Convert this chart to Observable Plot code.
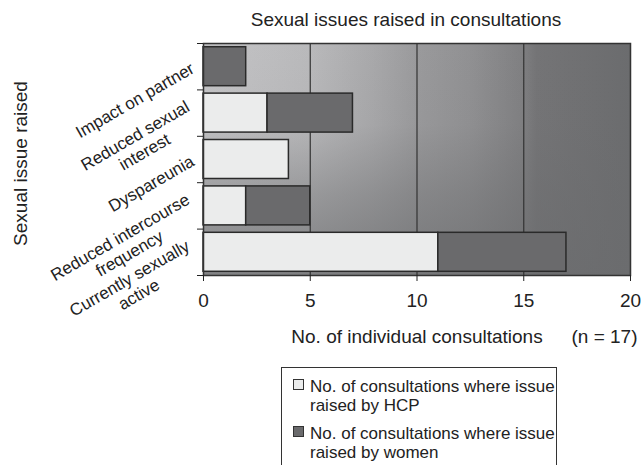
<!DOCTYPE html>
<html>
<head>
<meta charset="utf-8">
<script src="https://cdn.jsdelivr.net/npm/d3@7"></script>
<script src="https://cdn.jsdelivr.net/npm/@observablehq/plot@0.6"></script>
<style>
  html, body { margin: 0; padding: 0; background: #fff; overflow: hidden; }
  #wrap { position: relative; width: 641px; height: 465px; overflow: hidden;
          font-family: 'Liberation Sans', Arial, sans-serif; color: #222; }
  #title { position: absolute; left: 406px; top: 1px; transform: translateX(-50%);
           white-space: nowrap; font-size: 19px; line-height: 38px; }
  #chart { position: absolute; left: 0; top: 38px; }
  #legend { position: absolute; left: 281px; top: 367px; width: 276px; height: 120px;
            border: 1px solid #333; box-sizing: border-box; background: #fff; }
  .item { position: absolute; left: 0; }
  .sw { position: absolute; left: 11px; top: 2px; width: 9px; height: 9px; border: 1px solid #333; }
  .txt { position: absolute; left: 28px; top: 0; white-space: nowrap; font-size: 17px; line-height: 19px; }
</style>
</head>
<body>
<div id="wrap">
  <div id="title"></div>
  <div id="chart"></div>
  <div id="legend"></div>
</div>
<script>
// ---- data ----
const chartTitle = "Sexual issues raised in consultations";
const categories = [
  "Impact on partner",
  "Reduced sexual\ninterest",
  "Dyspareunia",
  "Reduced intercourse\nfrequency",
  "Currently sexually\nactive"
];
const raisedByHCP = [0, 3, 4, 2, 11];
const raisedByWomen = [2, 4, 0, 3, 6];
const xTicks = [0, 5, 10, 15, 20];
const gridValues = [5, 10, 15];
const seriesKeys = ["HCP", "women"];
const seriesColors = ["#ebecec", "#6a6a6c"];
const legendLabels = [
  "No. of consultations where issue\nraised by HCP",
  "No. of consultations where issue\nraised by women"
];
const yTitle = "Sexual issue raised";
const xTitle = "No. of individual consultations";

// ---- build ----
document.getElementById("title").textContent = chartTitle;

const rows = categories.map((c, i) => ({cat: c, i, hcp: raisedByHCP[i], women: raisedByWomen[i]}));
const segs = [
  ...rows.filter(d => d.hcp > 0).map(d => ({i: d.i, x1: 0, x2: d.hcp, who: "HCP"})),
  ...rows.filter(d => d.women > 0).map(d => ({i: d.i, x1: d.hcp, x2: d.hcp + d.women, who: "women"}))
];
const pad = 0.08;

const ctx = document.createElement("canvas").getContext("2d");
ctx.font = "17px 'Liberation Sans', Arial, sans-serif";
const ang = Math.PI / 6;
const labelMarks = rows.map(r => {
  const W = Math.max(...r.cat.split("\n").map(l => ctx.measureText(l).width));
  return Plot.text([r], {
    x: () => 0, y: d => d.i + 0.5, text: "cat",
    rotate: -30, textAnchor: "middle", lineAnchor: "middle", lineHeight: 1.1,
    fontSize: 17, fill: "#222",
    dx: -11 - (W / 2) * Math.cos(ang), dy: (W / 2) * Math.sin(ang)
  });
});

const svg = Plot.plot({
  width: 641, height: 320,
  marginLeft: 203, marginRight: 11, marginTop: 5, marginBottom: 83,
  style: {fontFamily: "'Liberation Sans', Arial, sans-serif", fontSize: "19px", color: "#222", background: "transparent", overflow: "visible"},
  x: {domain: [0, 20], label: null},
  y: {domain: [0, categories.length], reverse: true, label: null},
  color: {domain: seriesKeys, range: seriesColors},
  marks: [
    Plot.frame({fill: "url(#bgH)"}),
    Plot.frame({fill: "url(#bgV)"}),
    Plot.ruleX(gridValues, {stroke: "#333", strokeWidth: 1.2}),
    Plot.rect(segs, {x1: "x1", x2: "x2", y1: d => d.i + pad, y2: d => d.i + 1 - pad, fill: "who", stroke: "#2a2a2a", strokeWidth: 1.5}),
    Plot.frame({stroke: "#333", strokeWidth: 1.5}),
    Plot.axisX({ticks: xTicks, tickSize: 6, tickPadding: 12, label: null, fontSize: 19}),
    Plot.axisY({ticks: d3.range(0, categories.length + 1), tickSize: 6, tickFormat: () => "", label: null}),
    ...labelMarks,
    Plot.text([yTitle], {frameAnchor: "left", text: d => d, rotate: -90, textAnchor: "middle", lineAnchor: "middle", dx: -183, dy: 4, fontSize: 19, fill: "#222"}),
    Plot.text([xTitle], {frameAnchor: "bottom", text: d => d, textAnchor: "middle", lineAnchor: "bottom", dy: 67, fontSize: 19, fill: "#222"}),
    Plot.text(["(n = 17)"], {frameAnchor: "bottom-right", text: d => d, textAnchor: "end", lineAnchor: "bottom", dx: 7, dy: 67, fontSize: 19, fill: "#222", ariaLabel: "n-label"})
  ]
});

// gradient background definitions
const defs = d3.select(svg).insert("defs", ":first-child");
const gH = defs.append("linearGradient").attr("id", "bgH")
  .attr("x1", 0).attr("y1", 0).attr("x2", 1).attr("y2", 0);
[[0, "#c4c4c6"], [0.25, "#b9b9bb"], [0.4, "#a8a8aa"], [0.5, "#9a9a9c"], [0.62, "#919193"], [0.745, "#808082"], [0.78, "#747476"], [1, "#6b6c6e"]]
  .forEach(([o, c]) => gH.append("stop").attr("offset", o).attr("stop-color", c));
const gV = defs.append("linearGradient").attr("id", "bgV")
  .attr("x1", 0).attr("y1", 0).attr("x2", 0).attr("y2", 1);
[[0, 0], [0.35, 0.05], [0.65, 0.42], [1, 0.75]]
  .forEach(([o, a]) => gV.append("stop").attr("offset", o).attr("stop-color", "#6b6c6e").attr("stop-opacity", a));

// italic n
const nt = d3.select(svg).selectAll('g[aria-label="n-label"] text');
nt.text(null);
nt.append("tspan").text("(");
nt.append("tspan").attr("font-style", "italic").style("font-style", "italic").text("n");
nt.append("tspan").text(" = 17)");

document.getElementById("chart").appendChild(svg);

// legend
const legend = d3.select("#legend");
const itemTops = [9, 56];
legendLabels.forEach((lab, k) => {
  const it = legend.append("div").attr("class", "item").style("top", itemTops[k] + "px");
  it.append("span").attr("class", "sw").style("background", seriesColors[k]);
  it.append("span").attr("class", "txt").html(lab.split("\n").join("<br>"));
});
</script>
</body>
</html>
